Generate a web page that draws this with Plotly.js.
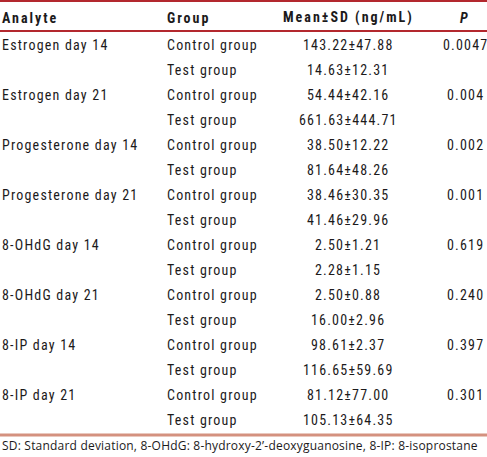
<!DOCTYPE html>
<html>
<head>
<meta charset="utf-8">
<script src="https://cdn.plot.ly/plotly-3.0.1.min.js"></script>
<style>
html,body{margin:0;padding:0;background:#fff;}
#chart{width:487px;height:457px;}
text[style*="Roboto"]{letter-spacing:1.2px;}
text[style*="Roboto"] tspan[style*="bold"]{letter-spacing:2px;}
text[style*="Open Sans"]{letter-spacing:0.2px;}
</style>
</head>
<body>
<div id="chart"></div>
<script>
var headers = ["Analyte", "Group", "Mean\u00b1SD (ng/mL)", "P"];
var analytes = ["Estrogen day 14", "Estrogen day 21", "Progesterone day 14", "Progesterone day 21",
                "8-OHdG day 14", "8-OHdG day 21", "8-IP day 14", "8-IP day 21"];
var groups = ["Control group", "Test group"];
var controlMean = [143.22, 54.44, 38.50, 38.46, 2.50, 2.50, 98.61, 81.12];
var controlSD   = [47.88, 42.16, 12.22, 30.35, 1.21, 0.88, 2.37, 77.00];
var testMean    = [14.63, 661.63, 81.64, 41.46, 2.28, 16.00, 116.65, 105.13];
var testSD      = [12.31, 444.71, 48.26, 29.96, 1.15, 2.96, 59.69, 64.35];
var pValues = ["0.0047", "0.004", "0.002", "0.001", "0.619", "0.240", "0.397", "0.301"];
var footnote = "SD: Standard deviation, 8-OHdG: 8-hydroxy-2\u2019-deoxyguanosine, 8-IP: 8-isoprostane";

var FONT = "'Roboto Condensed', 'DejaVu Sans Condensed', sans-serif";
var TXT = "#1c1a1b";
var colX = [0, 165, 348, 465];
var colAnchor = ["left", "left", "center", "center"];
var headerY = 17.5;
var row0 = 45.2, rowH = 24.98;

var ann = [];
function add(text, col, y, bold) {
  ann.push({
    x: colX[col], y: y, xref: "x", yref: "y", text: bold ? "<b>" + text + "</b>" : text,
    showarrow: false, xanchor: colAnchor[col], yanchor: "middle",
    font: {family: FONT, size: 14, color: TXT}
  });
}
headers.forEach(function (h, i) { add(i === 3 ? "<i>" + h + "</i>" : h, i, headerY, true); });
analytes.forEach(function (a, k) {
  var yC = row0 + rowH * (2 * k), yT = row0 + rowH * (2 * k + 1);
  add(a, 0, yC);
  add(groups[0], 1, yC);
  add(groups[1], 1, yT);
  add(controlMean[k].toFixed(2) + "\u00b1" + controlSD[k].toFixed(2), 2, yC);
  add(testMean[k].toFixed(2) + "\u00b1" + testSD[k].toFixed(2), 2, yT);
  add(pValues[k], 3, yC);
});
ann.push({
  x: 0, y: 445, xref: "x", yref: "y", text: footnote, showarrow: false,
  xanchor: "left", yanchor: "middle",
  font: {family: "'Open Sans', 'Noto Sans', sans-serif", size: 12, color: TXT}
});

var shapes = [
  {type: "line", xref: "x", yref: "y", x0: 0, x1: 487, y0: 1, y1: 1, line: {color: "#b3282e", width: 2}},
  {type: "line", xref: "x", yref: "y", x0: 0, x1: 487, y0: 31, y1: 31, line: {color: "#b3282e", width: 2}},
  {type: "line", xref: "x", yref: "y", x0: 0, x1: 487, y0: 435, y1: 435, line: {color: "#d4917f", width: 3}}
];

Plotly.newPlot("chart", [{x: [], y: [], type: "scatter", mode: "markers", hoverinfo: "skip"}], {
  width: 487, height: 457,
  margin: {l: 0, r: 0, t: 0, b: 0, pad: 0},
  paper_bgcolor: "#ffffff", plot_bgcolor: "#ffffff",
  showlegend: false,
  xaxis: {range: [0, 487], visible: false, fixedrange: true},
  yaxis: {range: [457, 0], visible: false, fixedrange: true},
  annotations: ann,
  shapes: shapes
}, {staticPlot: true, displayModeBar: false});
</script>
</body>
</html>
